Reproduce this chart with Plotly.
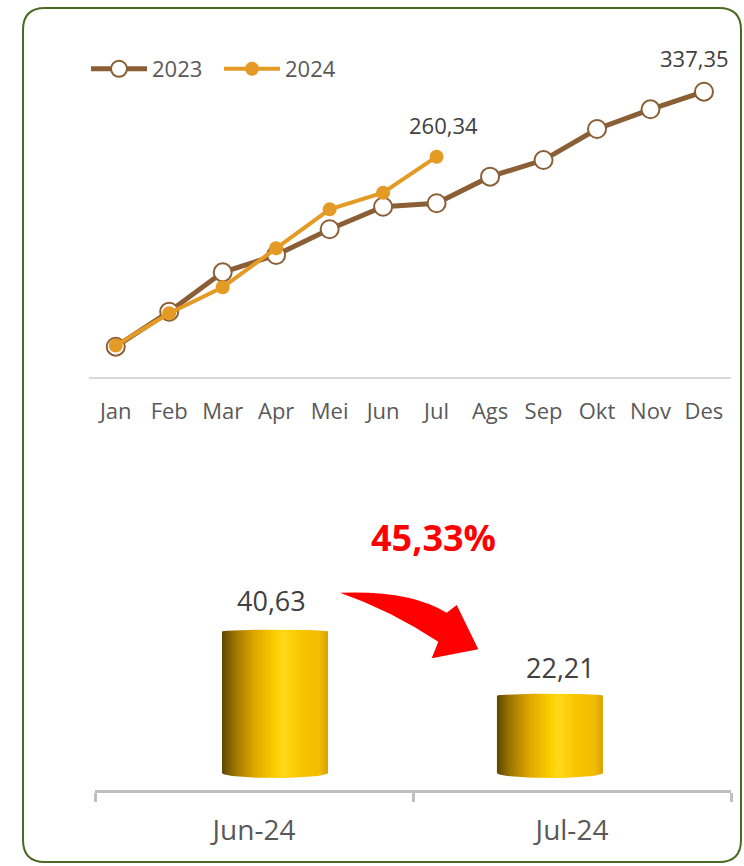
import plotly.graph_objects as go
import math

# ---------------- data ----------------
months = ["Jan", "Feb", "Mar", "Apr", "Mei", "Jun", "Jul", "Ags", "Sep", "Okt", "Nov", "Des"]
series_2023 = [35.3, 76.8, 123.4, 143.9, 174.4, 201.1, 205.2, 236.7, 256.4, 293.2, 316.5, 337.35]
series_2024 = [36.7, 74.9, 105.7, 151.9, 198.0, 217.7, 260.34]
bar_categories = ["Jun-24", "Jul-24"]
bar_values = [40.63, 22.21]
change_label = "45,33%"


def fmt(v):
    return f"{v:.2f}".replace(".", ",")


W, H = 744, 866
FONT = "Open Sans"


def px(x):
    return x / W


def py(y):
    return 1 - y / H


fig = go.Figure()

# ---------------- line chart ----------------
fig.add_trace(go.Scatter(
    x=months, y=series_2023, name="2023", mode="lines+markers",
    line=dict(color="#8a5f36", width=5),
    marker=dict(size=18, color="white", line=dict(color="#8a5f36", width=2)),
    xaxis="x", yaxis="y", cliponaxis=False,
))
fig.add_trace(go.Scatter(
    x=months[:len(series_2024)], y=series_2024, name="2024", mode="lines+markers",
    line=dict(color="#e49b26", width=4),
    marker=dict(size=14, color="#e49b26"),
    xaxis="x", yaxis="y", cliponaxis=False,
))

annotations = []
annotations.append(dict(x=months[len(series_2023) - 1], y=series_2023[-1], xref="x", yref="y",
                        text=fmt(series_2023[-1]), showarrow=False, xshift=-9, yshift=34,
                        font=dict(family=FONT, size=22, color="#404040")))
annotations.append(dict(x=months[len(series_2024) - 1], y=series_2024[-1], xref="x", yref="y",
                        text=fmt(series_2024[-1]), showarrow=False, xshift=7, yshift=32,
                        font=dict(family=FONT, size=22, color="#404040")))

# ---------------- bar chart ----------------
bar_x = list(range(len(bar_categories)))
bar_width = 0.333
bar_offsets = [-0.1006, -0.236]
label_xshift = [-3, 11]
label_yshift = [31, 28]

fig.add_trace(go.Bar(
    x=bar_x, y=bar_values, width=bar_width, offset=bar_offsets,
    marker=dict(color="#f2bf00", line=dict(width=0)),
    xaxis="x2", yaxis="y2", showlegend=False, name="",
    hovertext=bar_categories,
))

scale_px = 3.48
ry_bot = 5 / scale_px
ry_top = 2 / scale_px
gradient = [[0, "#5e4600"], [0.12, "#9c7400"], [0.3, "#dca600"], [0.5, "#fcce00"],
            [0.58, "#ffd91a"], [0.75, "#f8c400"], [0.92, "#f2bc00"], [1, "#d9a200"]]
for i, v in enumerate(bar_values):
    x0 = bar_x[i] + bar_offsets[i]
    x1 = x0 + bar_width
    cx = (x0 + x1) / 2
    rx = (x1 - x0) / 2
    n = 30
    xs, ys = [], []
    for k in range(n + 1):
        t = math.pi - math.pi * k / n
        xs.append(cx + rx * math.cos(t))
        ys.append(0 - ry_bot * math.sin(t))
    for k in range(n + 1):
        t = math.pi * k / n
        xs.append(cx + rx * math.cos(t))
        ys.append(v + ry_top * math.sin(t))
    fig.add_trace(go.Scatter(
        x=xs, y=ys, mode="lines", fill="toself", line=dict(width=0, color="rgba(0,0,0,0)"),
        fillgradient=dict(type="horizontal", colorscale=gradient),
        xaxis="x2", yaxis="y2", showlegend=False, hoverinfo="skip",
    ))
    annotations.append(dict(x=cx, y=v, xref="x2", yref="y2", text=fmt(v), showarrow=False,
                            xshift=label_xshift[i], yshift=label_yshift[i],
                            font=dict(family=FONT, size=27, color="#404040")))

annotations.append(dict(x=px(433), y=py(537), xref="paper", yref="paper", text=f"<b>{change_label}</b>",
                        showarrow=False, xanchor="center", yanchor="middle",
                        font=dict(family=FONT, size=36, color="#ff0000")))


# ---------------- decorative shapes ----------------
def path(cmds):
    out = []
    for c in cmds:
        if isinstance(c, str):
            out.append(c)
        else:
            out.append(f"{px(c[0]):.5f},{py(c[1]):.5f}")
    return " ".join(out)


arrow = path(["M", (340, 592.7), "Q", (410, 590), (446.7, 612.7), "L", (456.7, 605),
              "L", (478.3, 649.3), "L", (431.7, 658.3), "L", (438.3, 641.7),
              "Q", (390, 610), (340, 592.7), "Z"])

L, T, R, B, r = 23, 8, 741, 862, 22
border = path(["M", (L + r, T), "L", (R - r, T), "Q", (R, T), (R, T + r), "L", (R, B - r),
               "Q", (R, B), (R - r, B), "L", (L + r, B), "Q", (L, B), (L, B - r),
               "L", (L, T + r), "Q", (L, T), (L + r, T), "Z"])

shapes = [
    dict(type="path", path=border, xref="paper", yref="paper",
         line=dict(color="#4a6a24", width=2), fillcolor="rgba(0,0,0,0)", layer="below"),
    dict(type="path", path=arrow, xref="paper", yref="paper",
         line=dict(width=0), fillcolor="#ff0000"),
]

fig.update_layout(
    width=W, height=H,
    margin=dict(l=0, r=0, t=0, b=0),
    paper_bgcolor="white", plot_bgcolor="rgba(0,0,0,0)",
    font=dict(family=FONT, color="#595959"),
    showlegend=True,
    legend=dict(orientation="h", x=px(86), y=py(69), xanchor="left", yanchor="middle",
                font=dict(family=FONT, size=22, color="#595959"),
                itemwidth=56, entrywidth=62, entrywidthmode="pixels",
                bgcolor="rgba(0,0,0,0)", itemclick=False),
    xaxis=dict(domain=[px(89), px(730.7)], type="category", range=[-0.5, 11.5],
               showline=True, linecolor="#d9d9d9", linewidth=2, showgrid=False,
               ticks="", ticklabelstandoff=14, fixedrange=True,
               tickfont=dict(family=FONT, size=22, color="#595959")),
    yaxis=dict(domain=[py(376.5), py(40)], range=[0, (376.5 - 40) * 1.1845],
               visible=False, fixedrange=True),
    xaxis2=dict(domain=[px(95), px(731)], range=[-0.5, 1.5], anchor="y2",
                tickvals=bar_x, ticktext=bar_categories, ticks="",
                showline=True, linecolor="#bfbfbf", linewidth=3, showgrid=False, zeroline=False,
                minor=dict(tickvals=[-0.5, 0.5, 1.5], ticks="outside", ticklen=9, tickwidth=3,
                           tickcolor="#bfbfbf", showgrid=False),
                ticklabelstandoff=13, fixedrange=True,
                tickfont=dict(family=FONT, size=28, color="#595959")),
    yaxis2=dict(domain=[py(790), py(470)], range=[-(790 - 773) / scale_px, (773 - 470) / scale_px],
                anchor="x2", visible=False, fixedrange=True),
    annotations=annotations,
    shapes=shapes,
)

fig.write_html("out.html", config={"displayModeBar": False},
               post_script="document.body.style.margin='0';document.body.style.overflow='hidden';")
